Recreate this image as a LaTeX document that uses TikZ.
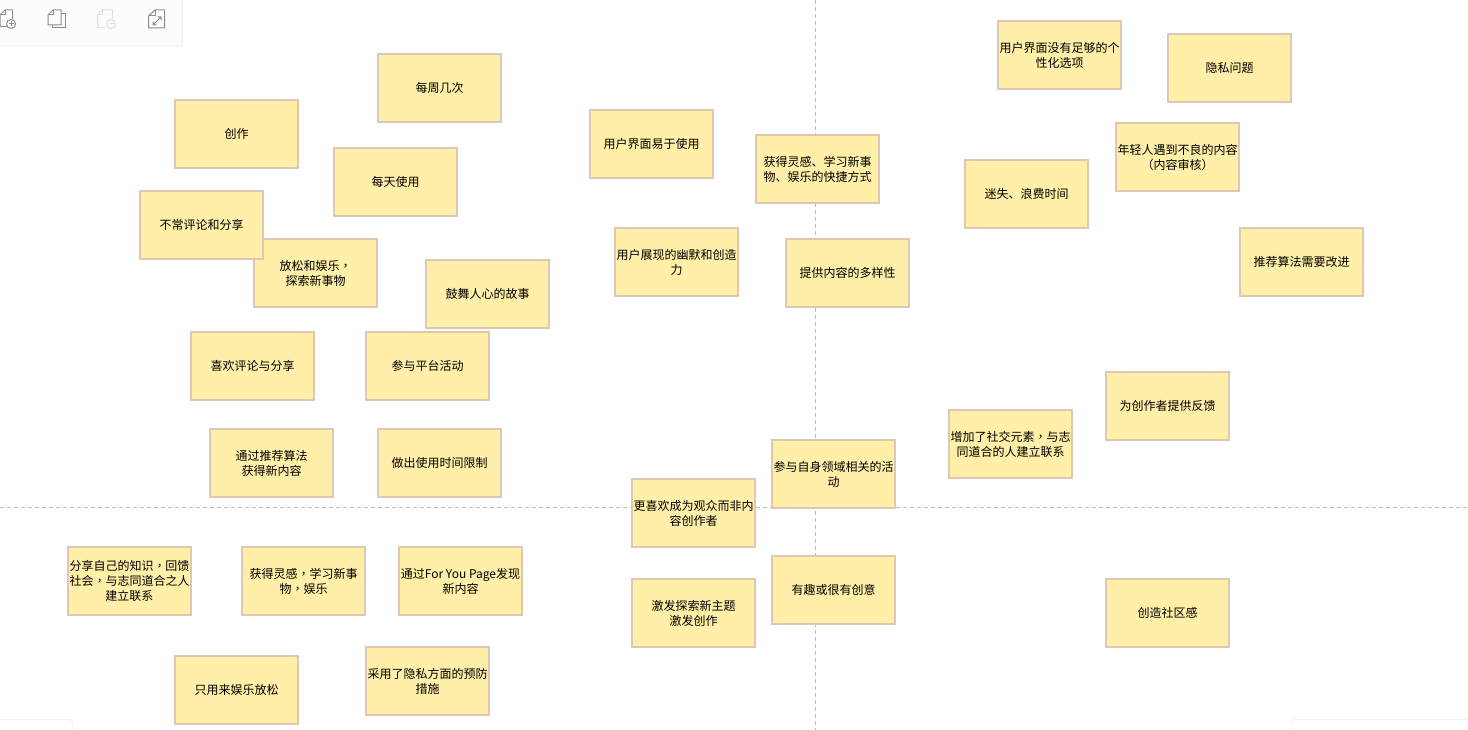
\documentclass[tikz,border=0pt]{standalone}
\usepackage{fontspec}
\setmainfont{Noto Sans CJK SC}
\newfontfamily\tcpunct{Noto Sans CJK TC}
\newcommand{\cmm}{{\tcpunct ，}}
\begin{document}
\begin{tikzpicture}[x=1pt,y=-1pt,
  sticky/.style={draw=stickyedge,fill=stickyfill,line width=2pt,minimum width=123pt,minimum height=68pt,inner sep=0pt,align=center,font=\fontsize{12}{15}\selectfont,text=black},
  axis/.style={draw=axisgray,line width=0.9pt,dash pattern=on 4pt off 3pt},
  panel/.style={draw=panelline,line width=0.8pt},
  icon/.style={draw=icongray,line width=1pt,line join=round},
  iconlight/.style={draw=iconlight,line width=1pt,line join=round}]
\definecolor{stickyfill}{HTML}{FFEFA8}
\definecolor{stickyedge}{HTML}{E0C8B0}
\definecolor{axisgray}{HTML}{BDBDBD}
\definecolor{panelline}{HTML}{F2F2F2}
\definecolor{icongray}{HTML}{8C8C8C}
\definecolor{iconlight}{HTML}{DDDDDD}
\definecolor{toolbar}{HTML}{FBFDFD}
\useasboundingbox (0,0) rectangle (1468,730);
\fill[white] (0,0) rectangle (1468,730);
% corner panels and toolbar
\draw[panel] (0,719.5) -- (69,719.5) arc[start angle=-90,end angle=0,radius=4] -- (73,730);
\draw[panel] (1291,730) -- (1291,723.5) arc[start angle=180,end angle=270,radius=4] -- (1468,719.5);
\draw[panel,fill=toolbar] (-2,-2) rectangle (182.5,45.5);
% icons
\draw[icon] (0,27) -- (0,15) -- (5,10) -- (12.5,10) -- (12.5,19);
\draw[icon] (5,10) -- (5,15) -- (0,15);
\draw[icon] (6.5,27) -- (0,27);
\draw[icon] (11,24) circle (4.5);
\draw[icon] (8.5,24) -- (13.5,24) (11,21.5) -- (11,26.5);
\draw[icon] (48,25) -- (48,15) -- (53,10) -- (61,10) -- (61,25) -- cycle;
\draw[icon] (53,10) -- (53,15) -- (48,15);
\draw[icon] (61,13.5) -- (65,13.5) -- (65,28) -- (52,28) -- (52,25);
\draw[iconlight] (97.5,27.5) -- (97.5,15) -- (102.5,10) -- (112.5,10) -- (112.5,19);
\draw[iconlight] (102.5,10) -- (102.5,15) -- (97.5,15);
\draw[iconlight] (97.5,27.5) -- (105,27.5);
\draw[iconlight] (111,24) circle (4.5);
\draw[iconlight] (108.5,24) -- (113.5,24);
\draw[icon] (148.5,28) -- (148.5,16) -- (155,10) -- (164.5,10) -- (164.5,28) -- cycle;
\draw[icon] (155,10) -- (155,16) -- (148.5,16);
\draw[icon] (153,25) -- (161,17) (157.5,17) -- (161,17) -- (161,20.5) (153,21.5) -- (153,25) -- (156.5,25);
% axes
\coordinate (axisL) at (0,507.5);
\coordinate (axisR) at (1468,507.5);
\coordinate (axisT) at (815.5,0);
\coordinate (axisB) at (815.5,730);
\draw[axis] (axisL) -- (axisR);
\draw[axis] (axisT) -- (axisB);
% stickies
\node[sticky] (n1) at (439.5,88) {每周几次};
\node[sticky] (n2) at (236.5,134) {创作};
\node[sticky] (n3) at (395.5,182) {每天使用};
\node[sticky] (n4) at (315.5,273) {放松和娱乐\cmm\\探索新事物};
\node[sticky] (n5) at (201.5,225) {不常评论和分享};
\node[sticky] (n6) at (487.5,294) {鼓舞人心的故事};
\node[sticky] (n7) at (252.5,366) {喜欢评论与分享};
\node[sticky] (n8) at (427.5,366) {参与平台活动};
\node[sticky] (n9) at (271.5,463) {通过推荐算法\\获得新内容};
\node[sticky] (n10) at (439.5,463) {做出使用时间限制};
\node[sticky] (n11) at (129.5,581) {分享自己的知识\cmm 回馈\\社会\cmm 与志同道合之人\\建立联系};
\node[sticky] (n12) at (303.5,581) {获得灵感\cmm 学习新事\\物\cmm 娱乐};
\node[sticky] (n13) at (460.5,581) {通过For You Page发现\\新内容};
\node[sticky] (n14) at (236.5,690) {只用来娱乐放松};
\node[sticky] (n15) at (427.5,681) {采用了隐私方面的预防\\措施};
\node[sticky] (n16) at (651.5,144) {用户界面易于使用};
\node[sticky] (n17) at (817.5,169) {获得灵感、学习新事\\物、娱乐的快捷方式};
\node[sticky] (n18) at (676.5,262) {用户展现的幽默和创造\\力};
\node[sticky] (n19) at (847.5,273) {提供内容的多样性};
\node[sticky] (n20) at (833.5,474) {参与自身领域相关的活\\动};
\node[sticky] (n21) at (693.5,513) {更喜欢成为观众而非内\\容创作者};
\node[sticky] (n22) at (693.5,613) {激发探索新主题\\激发创作};
\node[sticky] (n23) at (833.5,590) {有趣或很有创意};
\node[sticky] (n24) at (1059.5,55) {用户界面没有足够的个\\性化选项};
\node[sticky] (n25) at (1229.5,68) {隐私问题};
\node[sticky] (n26) at (1177.5,157) {年轻人遇到不良的内容\\（内容审核）};
\node[sticky] (n27) at (1026.5,194) {迷失、浪费时间};
\node[sticky] (n28) at (1301.5,262) {推荐算法需要改进};
\node[sticky] (n29) at (1167.5,406) {为创作者提供反馈};
\node[sticky] (n30) at (1010.5,444) {增加了社交元素\cmm 与志\\同道合的人建立联系};
\node[sticky] (n31) at (1167.5,613) {创造社区感};
\end{tikzpicture}
\end{document}
